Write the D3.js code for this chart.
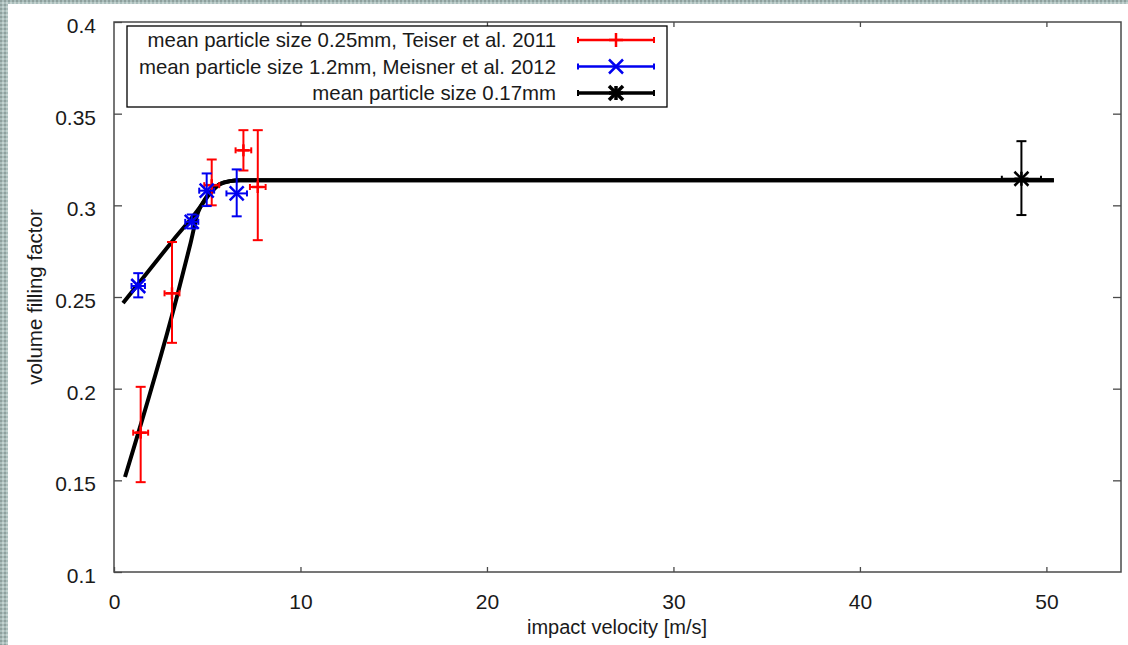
<!DOCTYPE html>
<html>
<head>
<meta charset="utf-8">
<script src="https://cdn.jsdelivr.net/npm/d3@7"></script>
<style>
  html, body { margin: 0; padding: 0; background: #fff; }
  svg { display: block; font-family: "Liberation Sans", Arial, sans-serif; }
</style>
</head>
<body>
<svg id="chart" width="1128" height="645"></svg>
<script>
// Teiser et al. 2011, mean particle size 0.25mm
const teiserV = [1.43, 3.11, 5.24, 6.94, 7.71];
const teiserVErr = [0.4, 0.4, 0.4, 0.42, 0.42];
const teiserPhi = [0.176, 0.252, 0.311, 0.330, 0.310];
const teiserPhiLo = [0.149, 0.225, 0.300, 0.319, 0.281];
const teiserPhiHi = [0.201, 0.280, 0.325, 0.341, 0.341];

// Meisner et al. 2012, mean particle size 1.2mm
const meisnerV = [1.30, 4.17, 4.97, 6.58];
const meisnerVErr = [0.36, 0.35, 0.4, 0.55];
const meisnerPhi = [0.256, 0.291, 0.308, 0.3065];
const meisnerPhiLo = [0.2498, 0.2874, 0.2996, 0.294];
const meisnerPhiHi = [0.263, 0.295, 0.3174, 0.3196];

// mean particle size 0.17mm
const ownV = [48.66];
const ownVErr = [1.05];
const ownPhi = [0.3145];
const ownPhiLo = [0.2947];
const ownPhiHi = [0.335];

// fit curves
const fitAV = [0.48, 3.17, 4.61, 5.15, 5.69, 6.22, 6.76, 50.4];
const fitAPhi = [0.2467, 0.2810, 0.2990, 0.3072, 0.3116, 0.3132, 0.3137, 0.3137];
const fitBV = [0.59, 3.33, 4.08, 4.51, 4.88, 5.26, 5.69, 6.22, 6.76, 50.4];
const fitBPhi = [0.1518, 0.2483, 0.2783, 0.2963, 0.3028, 0.3077, 0.3116, 0.3132, 0.3137, 0.3137];

const xTicks = [0, 10, 20, 30, 40, 50];
const yTicks = [0.1, 0.15, 0.2, 0.25, 0.3, 0.35, 0.4];

const legendLabels = [
    'mean particle size 0.25mm, Teiser et al. 2011',
    'mean particle size 1.2mm, Meisner et al. 2012',
    'mean particle size 0.17mm'
];

(function () {
    const svg = d3.select('#chart');
    const left = 114, right = 1121, top = 22, bottom = 572;
    const ink = '#1a1a1a';
    const frameColor = '#4a4a4a';

    // textured page border (left and top strips)
    const defs = svg.append('defs');
    const pat = defs.append('pattern')
        .attr('id', 'tex')
        .attr('width', 4).attr('height', 4)
        .attr('patternUnits', 'userSpaceOnUse');
    pat.append('rect').attr('width', 4).attr('height', 4).attr('fill', '#a9bdbb');
    pat.append('rect').attr('x', 0).attr('y', 0).attr('width', 2).attr('height', 2).attr('fill', '#8fa09d');
    pat.append('rect').attr('x', 2).attr('y', 2).attr('width', 2).attr('height', 2).attr('fill', '#c4d2cf');

    svg.append('rect').attr('width', 1128).attr('height', 645).attr('fill', '#fff');
    svg.append('rect').attr('x', 0).attr('y', 0).attr('width', 8).attr('height', 645).attr('fill', 'url(#tex)');
    svg.append('rect').attr('x', 0).attr('y', 0).attr('width', 1128).attr('height', 4).attr('fill', 'url(#tex)');

    const x = d3.scaleLinear().domain([0, 54]).range([left, right]);
    const y = d3.scaleLinear().domain([0.1, 0.4]).range([bottom, top]);

    // axes with inward ticks on all four sides
    const axisStyle = g => {
        g.select('.domain').remove();
        g.selectAll('.tick line').attr('stroke', frameColor).attr('stroke-width', 1.3);
        g.selectAll('.tick text')
            .attr('fill', ink)
            .style('font-size', '21px')
            .style('font-family', '"Liberation Sans", Arial, sans-serif');
    };

    svg.append('g')
        .attr('transform', `translate(0,${bottom})`)
        .call(d3.axisBottom(x).tickValues(xTicks).tickFormat(d3.format('d'))
            .tickSizeInner(-5).tickSizeOuter(0).tickPadding(22))
        .call(axisStyle);

    svg.append('g')
        .attr('transform', `translate(0,${top})`)
        .call(d3.axisTop(x).tickValues(xTicks.filter(d => d > 0)).tickFormat('')
            .tickSizeInner(-5).tickSizeOuter(0))
        .call(axisStyle);

    svg.append('g')
        .attr('transform', `translate(${left},0)`)
        .call(d3.axisLeft(y).tickValues(yTicks).tickFormat(d => d3.format('')(+d.toFixed(2)))
            .tickSizeInner(-8).tickSizeOuter(0).tickPadding(18))
        .call(axisStyle)
        .call(g => g.selectAll('.tick text').attr('dy', '0.5em'));

    svg.append('g')
        .attr('transform', `translate(${right},0)`)
        .call(d3.axisRight(y).tickValues(yTicks.slice(1, -1)).tickFormat('')
            .tickSizeInner(-8).tickSizeOuter(0))
        .call(axisStyle);

    svg.append('rect')
        .attr('x', left).attr('y', top)
        .attr('width', right - left).attr('height', bottom - top)
        .attr('fill', 'none')
        .attr('stroke', frameColor)
        .attr('stroke-width', 1.5);

    // axis titles
    svg.append('text')
        .attr('x', 617).attr('y', 634)
        .attr('text-anchor', 'middle')
        .attr('fill', ink)
        .style('font-size', '20px')
        .text('impact velocity [m/s]');

    svg.append('text')
        .attr('transform', 'translate(42,297) rotate(-90)')
        .attr('text-anchor', 'middle')
        .attr('fill', ink)
        .style('font-size', '20.5px')
        .text('volume filling factor');

    // fit curves
    const line = d3.line()
        .x(d => x(d[0]))
        .y(d => y(d[1]))
        .curve(d3.curveMonotoneX);

    const plot = svg.append('g');
    [[fitAV, fitAPhi], [fitBV, fitBPhi]].forEach(([vs, ps]) => {
        plot.append('path')
            .datum(d3.zip(vs, ps))
            .attr('d', line)
            .attr('fill', 'none')
            .attr('stroke', '#000')
            .attr('stroke-width', 4)
            .attr('stroke-linejoin', 'round');
    });

    const marker = (g, cx, cy, kind, color, w, s) => {
        const segs = [];
        if (kind === 'plus' || kind === 'star') {
            segs.push([cx - s, cy, cx + s, cy], [cx, cy - s, cx, cy + s]);
        }
        if (kind === 'cross' || kind === 'star') {
            segs.push([cx - s, cy - s, cx + s, cy + s], [cx - s, cy + s, cx + s, cy - s]);
        }
        segs.forEach(sg => {
            g.append('line')
                .attr('x1', sg[0]).attr('y1', sg[1])
                .attr('x2', sg[2]).attr('y2', sg[3])
                .attr('stroke', color).attr('stroke-width', w);
        });
    };

    const seg = (g, x1, y1, x2, y2, color, w) => g.append('line')
        .attr('x1', x1).attr('y1', y1).attr('x2', x2).attr('y2', y2)
        .attr('stroke', color).attr('stroke-width', w);

    const drawSeries = (vs, vErr, ps, lo, hi, color, kind, w, s) => {
        const g = svg.append('g');
        vs.forEach((v, i) => {
            const cx = x(v), cy = y(ps[i]);
            const xl = x(v - vErr[i]), xr = x(v + vErr[i]);
            const yt = y(hi[i]), yb = y(lo[i]);
            // y error bar with caps
            seg(g, cx, yt, cx, yb, color, w);
            seg(g, cx - 5, yt, cx + 5, yt, color, w);
            seg(g, cx - 5, yb, cx + 5, yb, color, w);
            // x error bar with caps
            seg(g, xl, cy, xr, cy, color, w);
            seg(g, xl, cy - 3, xl, cy + 3, color, w);
            seg(g, xr, cy - 3, xr, cy + 3, color, w);
            marker(g, cx, cy, kind, color, w + 0.5, s);
        });
    };

    drawSeries(teiserV, teiserVErr, teiserPhi, teiserPhiLo, teiserPhiHi, '#f00', 'plus', 2, 6);
    drawSeries(meisnerV, meisnerVErr, meisnerPhi, meisnerPhiLo, meisnerPhiHi, '#0000f0', 'cross', 2, 7);
    drawSeries(ownV, ownVErr, ownPhi, ownPhiLo, ownPhiHi, '#000', 'star', 2, 7);

    // legend
    const legend = svg.append('g');
    legend.append('rect')
        .attr('x', 127).attr('y', 26)
        .attr('width', 540).attr('height', 81)
        .attr('fill', '#fff')
        .attr('stroke', '#000')
        .attr('stroke-width', 1.3);

    const legendStyles = [
        { color: '#f00', kind: 'plus', w: 2.5, s: 7 },
        { color: '#0000f0', kind: 'cross', w: 2.5, s: 7 },
        { color: '#000', kind: 'star', w: 3.5, s: 7 }
    ];
    legendLabels.forEach((label, i) => {
        const ly = 40 + i * 26.5;
        legend.append('text')
            .attr('x', 556).attr('y', ly)
            .attr('dy', '0.36em')
            .attr('text-anchor', 'end')
            .attr('fill', ink)
            .style('font-size', '20.4px')
            .text(label);
        const st = legendStyles[i];
        seg(legend, 578, ly, 654, ly, st.color, st.w);
        seg(legend, 578, ly - 3, 578, ly + 3, st.color, 2);
        seg(legend, 654, ly - 3, 654, ly + 3, st.color, 2);
        marker(legend, 616, ly, st.kind, st.color, st.w, st.s);
    });
})();
</script>
</body>
</html>
